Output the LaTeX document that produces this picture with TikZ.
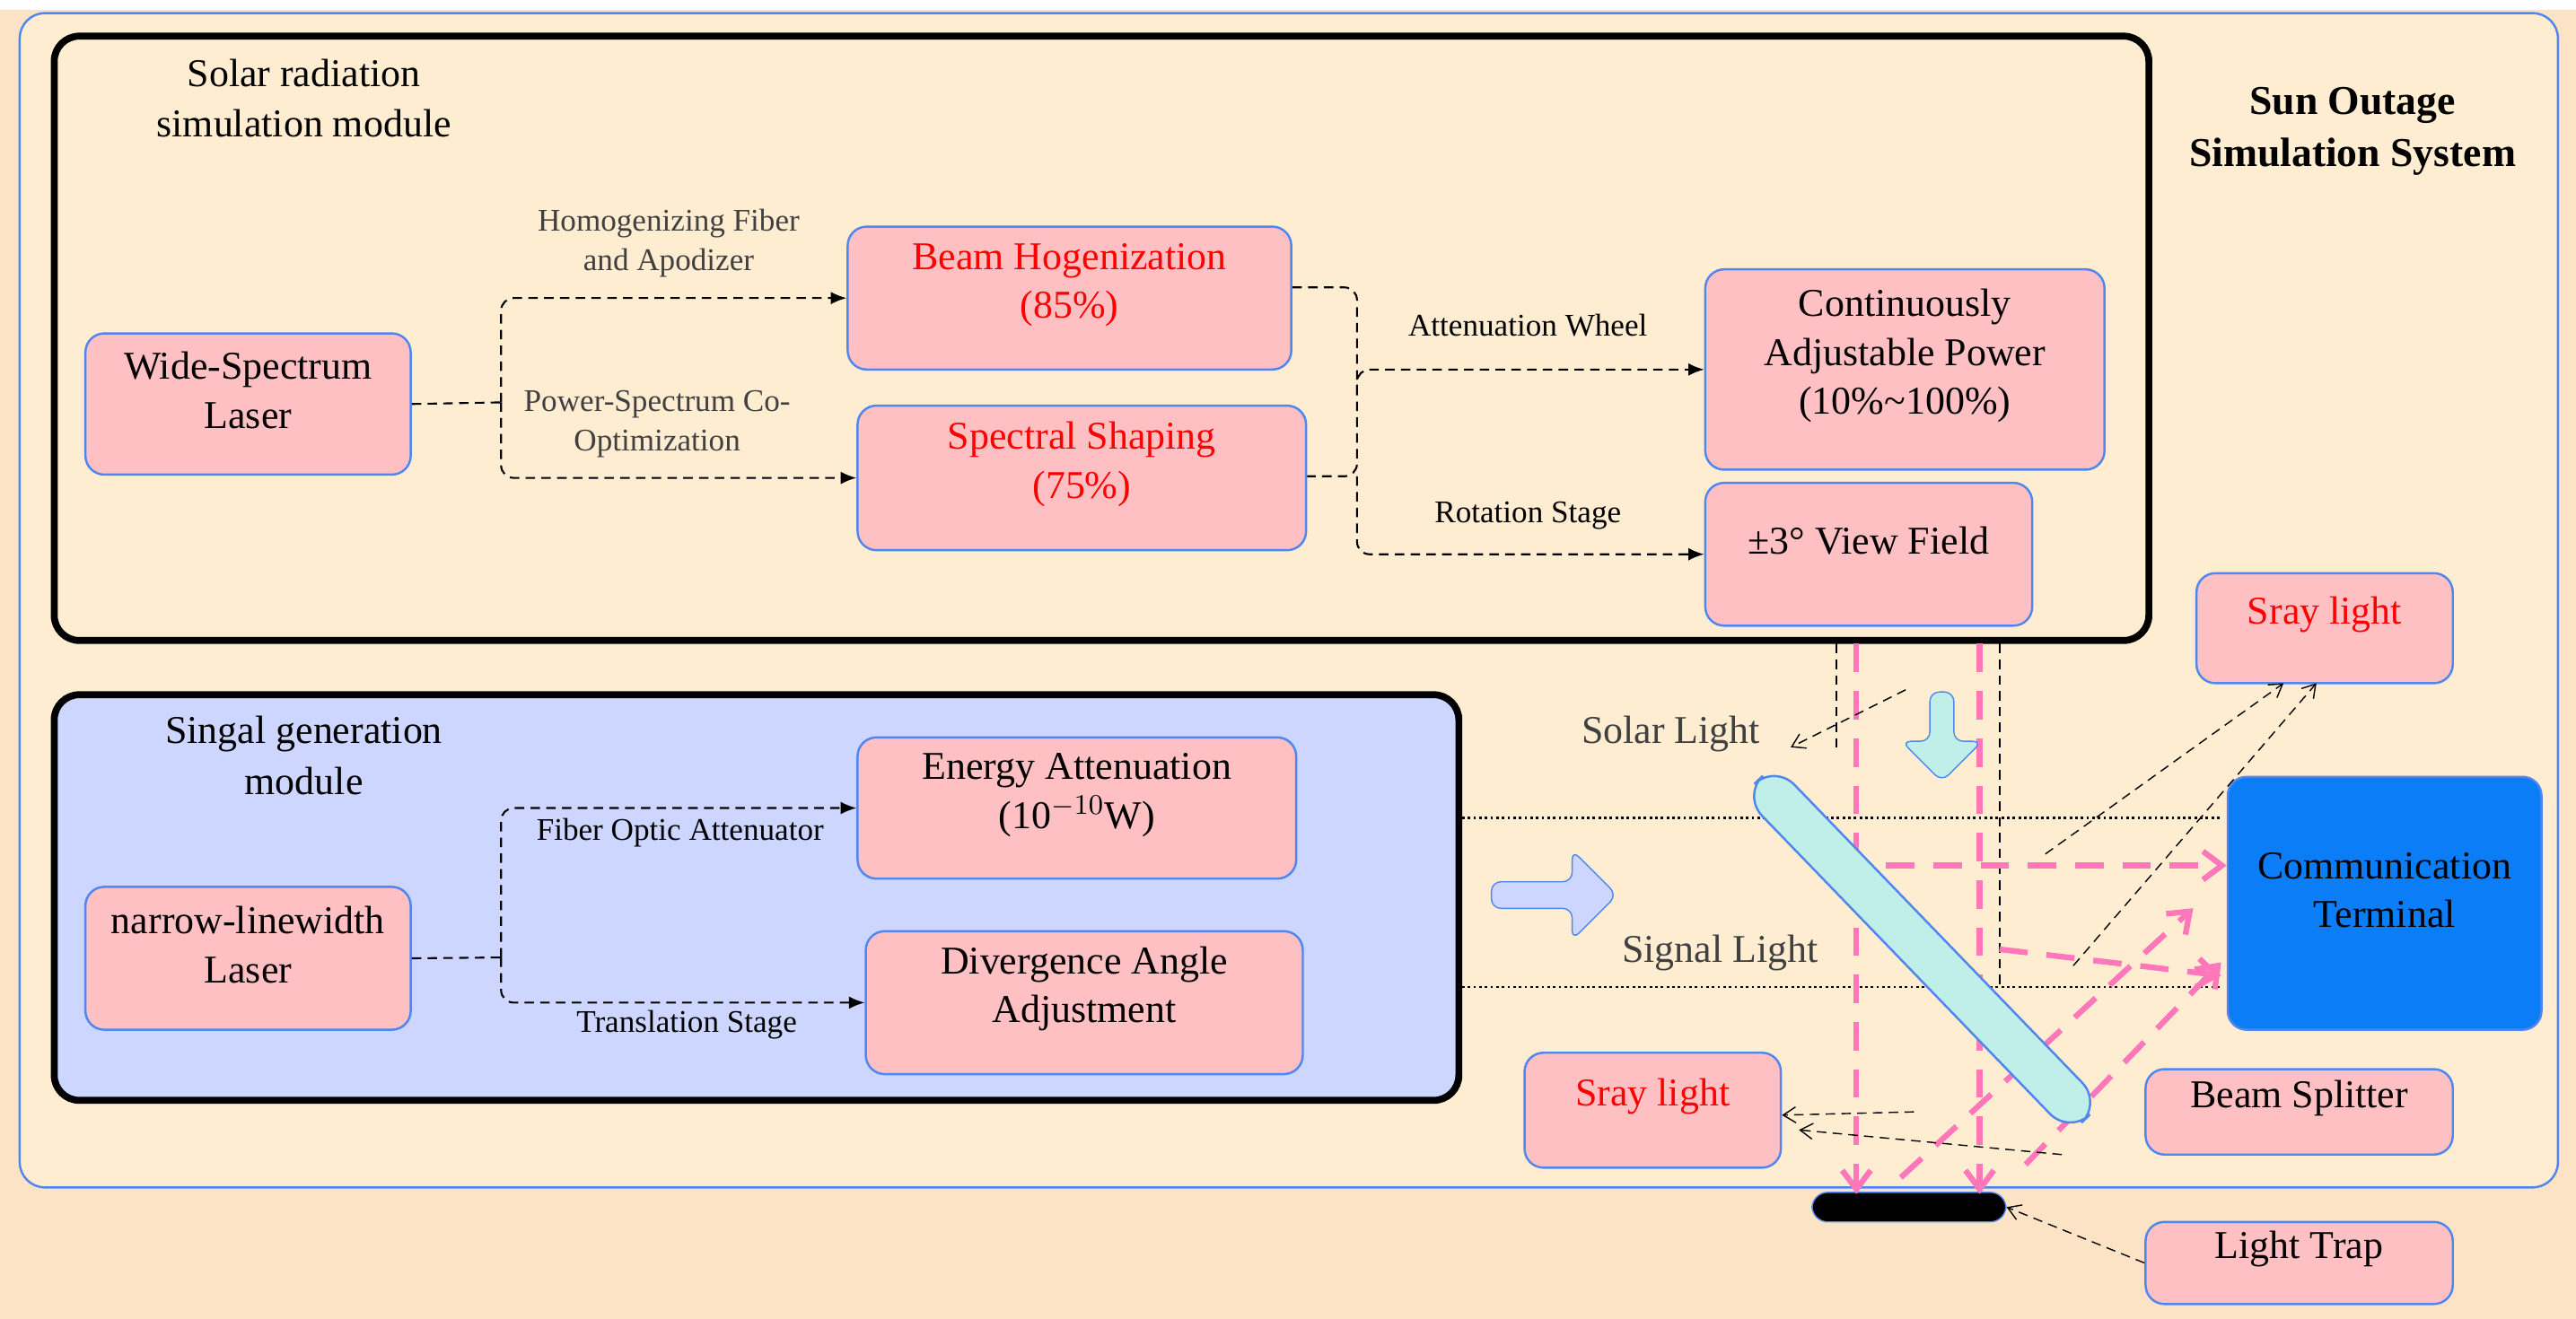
\documentclass[tikz,border=0pt]{standalone}
\usepackage{fontspec}
\setmainfont{Liberation Serif}
\usetikzlibrary{fit,arrows.meta,shapes.arrows,shapes.geometric}
\definecolor{bgo}{HTML}{FFEDD2}
\definecolor{bgp}{HTML}{FDE3C6}
\definecolor{pk}{HTML}{FFC0C4}
\definecolor{bl}{HTML}{4F86F0}
\definecolor{sig}{HTML}{CCD6FF}
\definecolor{term}{HTML}{0A7DF7}
\definecolor{cy}{HTML}{C0EEE8}
\definecolor{pl}{HTML}{FF77BB}
\definecolor{gt}{HTML}{404040}
\tikzset{
 box/.style={draw=bl,fill=pk,rounded corners=6pt,inner sep=0pt,align=center,font=\fontsize{12.5}{15.5}\selectfont,line width=0.7pt},
 lab/.style={text=gt,align=center,font=\fontsize{10}{12.5}\selectfont},
 mod/.style={draw=black,line width=2.2pt,rounded corners=8pt},
 con/.style={densely dashed,line width=0.6pt,-{Latex[length=5pt,width=4pt]},rounded corners=4pt},
 thin/.style={densely dashed,line width=0.4pt,-{Straight Barb[length=4pt,width=5pt]}},
 pd/.style={draw=pl,line width=1.8pt,dash pattern=on 9pt off 6pt,-{Straight Barb[length=6pt,width=9pt]}},
 bd/.style={densely dotted,line width=0.8pt}
}
\begin{document}
\begin{tikzpicture}[x=0.018304cm,y=-0.018304cm]
\useasboundingbox (0,0) rectangle (1568,803);
\fill[bgp] (0,0) rectangle (1568,803);
\fill[white] (0,0) rectangle (1568,6);
\draw[bl,fill=bgo,rounded corners=8pt,line width=0.7pt] (12,8) rectangle (1557,723);
% solar module
\draw[mod] (33,22) rectangle (1308,390);
\node[font=\fontsize{12.5}{16}\selectfont,align=center] (st) at (185,60) {Solar radiation\\simulation module};
\node[font=\bfseries\fontsize{13}{16.5}\selectfont,align=center] (sys) at (1432,80) {Sun Outage\\Simulation System};
\node[box,fit={(52,203)(250,289)}] (wl) {Wide-Spectrum\\Laser};
\node[box,fit={(516,138)(786,225)},text=red] (bh) {Beam Hogenization\\(85\%)};
\node[box,fit={(522,247)(795,335)},text=red] (ss) {Spectral Shaping\\(75\%)};
\node[box,fit={(1038,164)(1281,286)}] (cp) {Continuously\\Adjustable Power\\(10\%\textasciitilde100\%)};
\node[box,fit={(1038,294)(1237,381)}] (vf) {±3° View Field};
\node[lab] at (407,148) {Homogenizing Fiber\\and Apodizer};
\node[lab] at (400,258) {Power-Spectrum Co-\\Optimization};
\node[lab,text=black] at (930,198) {Attenuation Wheel};
\node[lab,text=black] at (930,314) {Rotation Stage};
\coordinate (j1) at (305,245);
\draw[densely dashed,line width=0.6pt] (wl.east) -- (j1);
\draw[con] (j1) |- (bh.west);
\draw[con] (j1) |- (ss.west);
\coordinate (j2) at (826,175);
\draw[densely dashed,line width=0.6pt,rounded corners=4pt] (bh.east|-j2) -| (826,290) -- (ss.east|-826,290);
\draw[con] (826,240) |- (cp.west);
\draw[con] (826,290) |- (vf.west);
% signal module
\draw[mod,fill=sig] (33,423) rectangle (888,670);
\node[font=\fontsize{12.5}{16}\selectfont,align=center] (sg) at (185,460) {Singal generation\\module};
\node[box,fit={(52,540)(250,627)}] (nl) {narrow-linewidth\\Laser};
\node[box,fit={(522,449)(789,535)}] (ea) {Energy Attenuation\\(10$^{-10}$W)};
\node[box,fit={(527,567)(793,654)}] (da) {Divergence Angle\\Adjustment};
\node[lab,text=black] at (414,507) {Fiber Optic Attenuator};
\node[lab,text=black] at (418,624) {Translation Stage};
\coordinate (j3) at (305,583);
\draw[densely dashed,line width=0.6pt] (nl.east) -- (j3);
\draw[con] (j3) |- (ea.west);
\draw[con] (j3) |- (da.west);
% right part
\node[box,fit={(1337,349)(1493,416)},text=red] (sr1) {Sray light};
\node[box,fit={(1356,473)(1547,627)},fill=term] (ct) {Communication\\Terminal};
\node[box,fit={(1306,651)(1493,703)}] (bs) {Beam Splitter};
\node[box,fit={(1306,744)(1493,794)}] (lt) {Light Trap};
\node[box,fit={(928,641)(1084,711)},text=red] (sr2) {Sray light};
\node[draw=bl,fill=black,rounded corners=5pt,fit={(1103,726)(1221,744)},inner sep=0pt] (trap) {};
% black dotted lines
\draw[bd] (890,498) -- (1352,498);
\draw[bd] (890,601) -- (1352,601);
\draw[densely dashed,line width=0.6pt] (1118,392) -- (1118,456);
\draw[densely dashed,line width=0.6pt] (1217,392) -- (1217,603);
% pink beams
\draw[pd] (1130,392) -- (1130,727);
\draw[pd] (1205,392) -- (1205,727);
\draw[pd] (1148,527) -- (ct.west|-1148,527);
\draw[pd] (1217,578) -- (1352,594);
\draw[pd] (1157,717) -- (1335,553);
\draw[pd] (1233,709) -- (1352,586);
% splitter
\node[draw=bl,fill=cy,rounded corners=9pt,minimum width=5.25cm,minimum height=0.5cm,rotate=-46,line width=0.7pt] (spl) at (1170,578) {};
% big arrows
\node[single arrow,draw=bl,fill=cy,rotate=-90,minimum height=1cm,minimum width=0.9cm,single arrow head extend=0.1cm,rounded corners=3pt,inner sep=1pt] (da1) at (1182,445) {};
\node[single arrow,draw=bl,fill=sig,minimum height=1.4cm,minimum width=1cm,single arrow head extend=0.1cm,rounded corners=3pt,inner sep=1pt] (ra1) at (942,545) {};
% labels
\node[lab,font=\fontsize{12.5}{15}\selectfont] (sl) at (1017,447) {Solar Light};
\node[lab,font=\fontsize{12.5}{15}\selectfont] (gl) at (1047,580) {Signal Light};
% thin arrows
\draw[thin] (1160,420) -- (1090,455);
\draw[thin] (1245,520) -- (1390,416);
\draw[thin] (1262,588) -- (1410,416);
\draw[thin] (1165,677) -- (sr2.east|-1165,679);
\draw[thin] (1255,703) -- (1095,688);
\draw[thin] (lt.west) -- (trap.east);
\end{tikzpicture}
\end{document}
